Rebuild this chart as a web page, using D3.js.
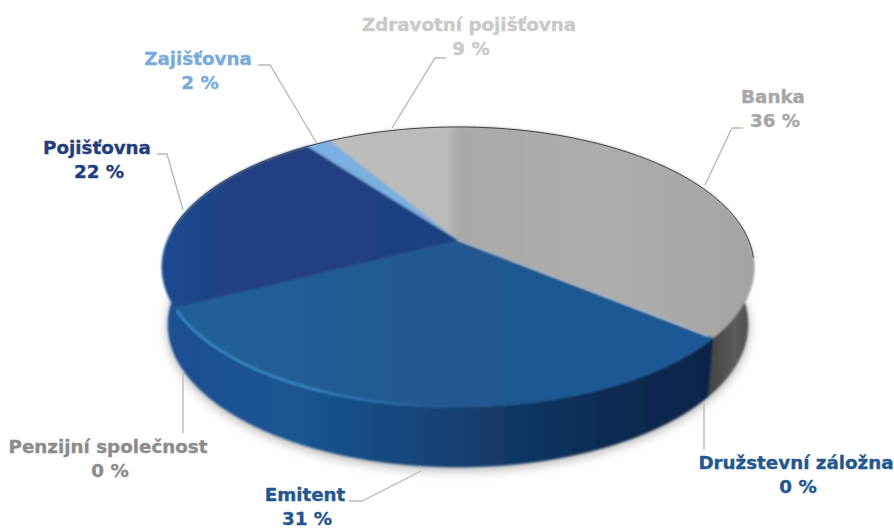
<!DOCTYPE html>
<html>
<head>
<meta charset="utf-8">
<script src="https://cdnjs.cloudflare.com/ajax/libs/d3/7.8.5/d3.min.js"></script>
<style>
  html, body { margin: 0; padding: 0; background: #fff; overflow: hidden; }
  text { font-family: "DejaVu Sans", sans-serif; font-weight: bold; font-size: 18.3px; text-anchor: middle; stroke-width: 0.35px; }
</style>
</head>
<body>
<script>
// clockwise from 12 o'clock, shares
var names = ["Banka", "Družstevní záložna", "Emitent", "Penzijní společnost", "Pojišťovna", "Zajišťovna", "Zdravotní pojišťovna"];
var shares = [36, 0, 31.4, 0, 22.4, 1.6, 8.6];

var width = 894, height = 529;

// one style entry per slice, same order as names
var textColors = ["#a6a6a6", "#21588f", "#21588f", "#8c8c8c", "#1f3f7f", "#77abdd", "#c9c9c9"];
var topColors = ["url(#topBanka)", "#21588f", "url(#topEmitent)", "#21588f", "url(#topPoj)", "#7aafe0", "url(#topZdrav)"];
var wallColors = ["url(#wallGrey)", "#0a2a50", "url(#wallBlue)", "#1d5a98", "url(#wallBlue)", "#1c4f93", "#8a8a8a"];

// label centres and leader lines, in pixels
var layout = [
  {x: 773, y: 103, leader: [[743, 128], [732, 128], [705, 185]]},
  {x: 796, y: 469, leader: [[704, 403], [704, 450]]},
  {x: 305, y: 501, leader: [[349, 501], [362, 501], [421, 471]]},
  {x: 108, y: 453, leader: [[183, 373], [183, 433]]},
  {x: 97, y: 154, leader: [[157, 154], [167, 154], [183, 210]]},
  {x: 198, y: 65, leader: [[258, 65], [270, 65], [316, 142]]},
  {x: 469, y: 31, leader: [[446, 58], [435, 58], [392, 128]]}
];

// the disc is seen in perspective, so its centre sits above the centre of the ellipse
var cx = 458, cy = 240, persp = 0.1929;
var sx = d3.scaleLinear().domain([-1, 1]).range([cx - 290.4, cx + 290.4]);
var sy = d3.scaleLinear().domain([-1, 1]).range([cy - 134.8, cy + 134.8]);

function project(angle, r) {
  var u = r * Math.sin(angle), v = -r * Math.cos(angle);
  var w = 1 - persp * v;
  return [sx(u / w), sy(v / w)];
}

function projectBottom(angle) {
  var u = Math.sin(angle), v = -Math.cos(angle);
  var w = 1 - persp * v;
  return [cx + 290.4 * 0.98 * u / w, cy + 57 + 134.8 * 1.018 * v / w];
}

function arcAngles(a0, a1) {
  var n = Math.max(2, Math.ceil((a1 - a0) / 0.01));
  return d3.range(n + 1).map(function(i) { return a0 + (a1 - a0) * i / n; });
}

var line = d3.line();

var pie = d3.pie().sort(null).value(function(d) { return d; });
var slices = pie(shares);

var svg = d3.select("body").append("svg").attr("width", width).attr("height", height);
var defs = svg.append("defs");

function gradient(id, x1, x2, stops) {
  var g = defs.append("linearGradient").attr("id", id).attr("gradientUnits", "userSpaceOnUse")
    .attr("x1", x1).attr("x2", x2).attr("y1", 0).attr("y2", 0);
  stops.forEach(function(s) {
    g.append("stop").attr("offset", s[0]).attr("stop-color", s[1]).attr("stop-opacity", s.length > 2 ? s[2] : 1);
  });
}

gradient("wallBlue", 160, 710, [[0, "#1c4f93"], [0.25, "#1a5592"], [0.55, "#153f70"], [0.8, "#0b2c54"], [1, "#07244a"]]);
gradient("wallGrey", 705, 755, [[0, "#3f3f3d"], [0.6, "#5c5c5a"], [1, "#4a4a48"]]);
gradient("topBanka", 458, 755, [[0, "#a9a9a7"], [0.5, "#adadab"], [1, "#a4a4a2"]]);
gradient("topZdrav", 325, 458, [[0, "#bcbcba"], [0.92, "#bbbbb9"], [1, "#a9a9a7"]]);
gradient("topEmitent", 175, 710, [[0, "#24609a"], [0.5, "#21598f"], [1, "#1c5896"]]);
gradient("topPoj", 165, 455, [[0, "#1d4a90"], [0.25, "#214183"], [1, "#1f3f80"]]);
gradient("rimBlue", 180, 480, [[0, "#3590c8"], [0.45, "#3a86c4"], [1, "#2a6aa8", 0]]);

defs.append("filter").attr("id", "soft").attr("x", "-5%").attr("y", "-5%").attr("width", "110%").attr("height", "110%")
  .append("feGaussianBlur").attr("stdDeviation", 1);
defs.append("filter").attr("id", "rimBlur").attr("x", "-5%").attr("y", "-20%").attr("width", "110%").attr("height", "140%")
  .append("feGaussianBlur").attr("stdDeviation", 1.2);
defs.append("filter").attr("id", "shadow").attr("x", "-10%").attr("y", "-10%").attr("width", "120%").attr("height", "120%")
  .append("feGaussianBlur").attr("stdDeviation", 6);

var full = arcAngles(0, 2 * Math.PI);

// soft shadow under the disc
svg.append("path")
  .attr("d", line(full.map(projectBottom)) + "Z")
  .attr("fill", "#8f8f8f")
  .attr("opacity", 0.75)
  .attr("transform", "translate(0,3)")
  .attr("filter", "url(#shadow)");

var disc = svg.append("g").attr("filter", "url(#soft)");

// side walls first, the top surface hides the back ones
disc.selectAll("path.wall").data(slices).enter().append("path")
  .attr("class", "wall")
  .attr("d", function(d) {
    if (d.endAngle === d.startAngle) return null;
    var angles = arcAngles(d.startAngle, d.endAngle);
    return line(angles.map(function(a) { return project(a, 1); })
      .concat(angles.slice().reverse().map(projectBottom))) + "Z";
  })
  .attr("fill", function(d, i) { return wallColors[i]; })
  .attr("stroke", function(d, i) { return wallColors[i]; })
  .attr("stroke-width", 0.5);

disc.selectAll("path.top").data(slices).enter().append("path")
  .attr("class", "top")
  .attr("d", function(d) {
    if (d.endAngle === d.startAngle) return null;
    var pts = arcAngles(d.startAngle, d.endAngle).map(function(a) { return project(a, 1); });
    pts.unshift([cx, cy]);
    return line(pts) + "Z";
  })
  .attr("fill", function(d, i) { return topColors[i]; })
  .attr("stroke", function(d, i) { return topColors[i]; })
  .attr("stroke-width", 0.5);

// pale seam along the grey / blue edge
svg.append("path")
  .attr("d", line([[cx, cy], project(slices[0].endAngle, 0.985)]))
  .attr("stroke", "#c4ccd4").attr("stroke-width", 1.6).attr("fill", "none").attr("filter", "url(#rimBlur)");

// bevel highlight on the front rim of the blue slice
svg.append("path")
  .attr("d", line(arcAngles(Math.PI * 0.98, slices[2].endAngle - 0.02).map(function(a) { return project(a, 1); })))
  .attr("stroke", "url(#rimBlue)").attr("stroke-width", 2.5).attr("fill", "none").attr("filter", "url(#rimBlur)");

// dark line along the far rim
svg.append("path")
  .attr("d", line(arcAngles(-1.5, 1.7).map(function(a) { return project(a, 1); })))
  .attr("stroke", "#3c3c3c").attr("stroke-width", 1).attr("fill", "none");

svg.selectAll("path.leader").data(layout).enter().append("path")
  .attr("class", "leader")
  .attr("d", function(d) { return line(d.leader); })
  .attr("stroke", "#b9b9b9").attr("stroke-width", 1.4).attr("fill", "none");

var labels = svg.selectAll("text.label").data(names).enter().append("text")
  .attr("class", "label")
  .attr("fill", function(d, i) { return textColors[i]; })
  .attr("stroke", function(d, i) { return textColors[i]; });

labels.append("tspan")
  .attr("x", function(d, i) { return layout[i].x; })
  .attr("y", function(d, i) { return layout[i].y; })
  .text(function(d) { return d; });

labels.append("tspan")
  .attr("x", function(d, i) { return layout[i].x + 2; })
  .attr("y", function(d, i) { return layout[i].y + 24; })
  .text(function(d, i) { return Math.round(shares[i]) + " %"; });
</script>
</body>
</html>
